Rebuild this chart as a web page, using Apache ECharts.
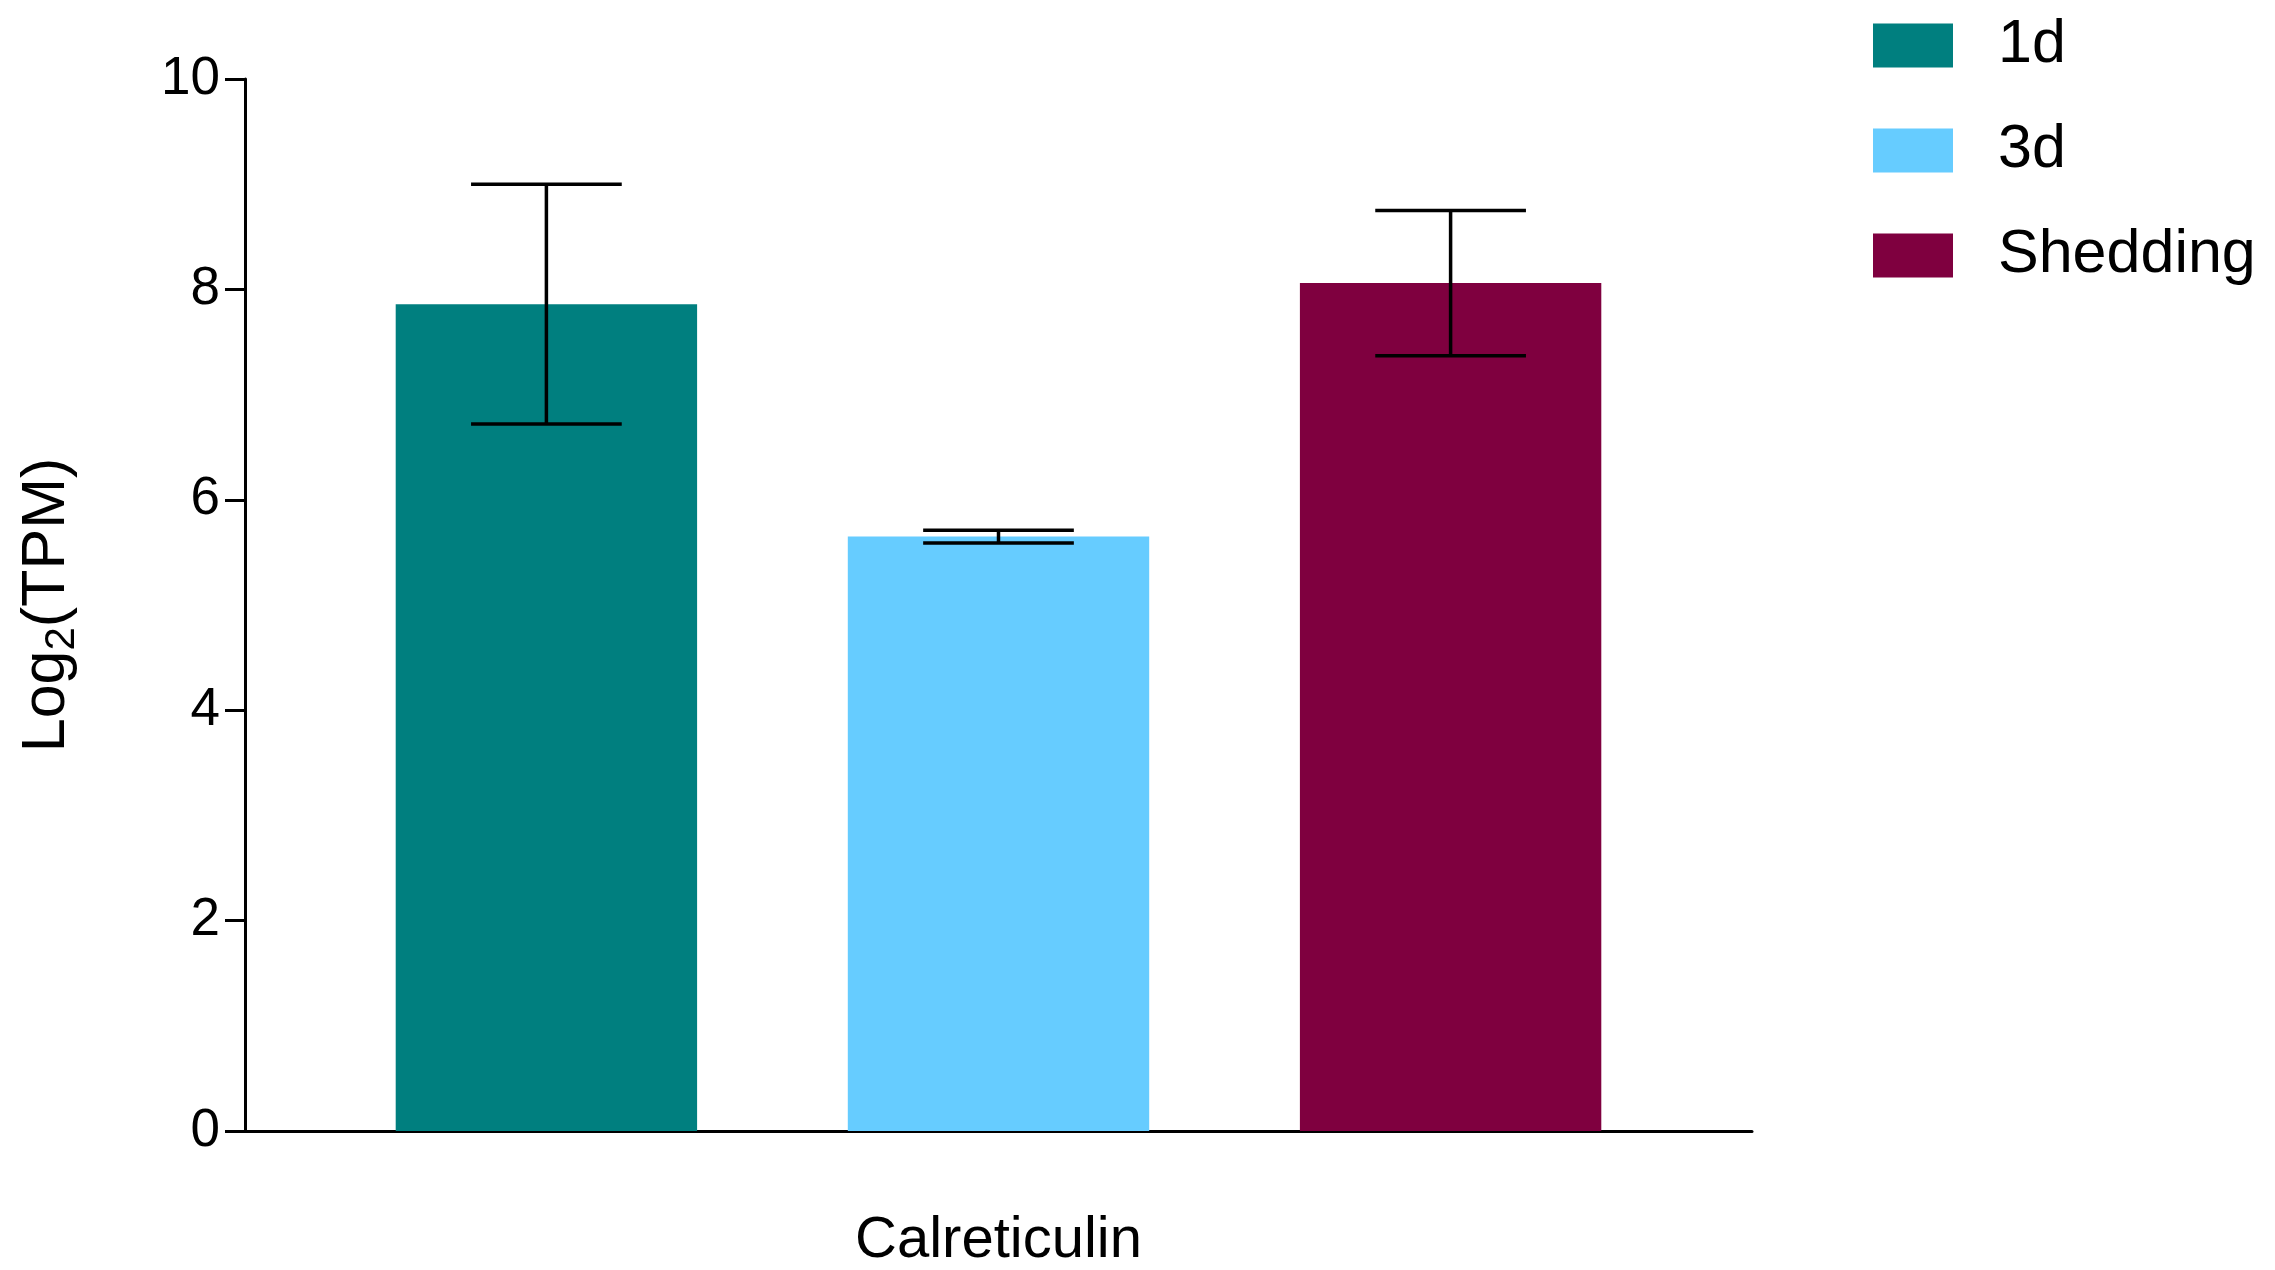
<!DOCTYPE html>
<html>
<head>
<meta charset="utf-8">
<title>Calreticulin expression</title>
<script src="https://cdn.jsdelivr.net/npm/echarts@6/dist/echarts.min.js"></script>
<style>
  html, body { margin: 0; padding: 0; background: #fff; }
  #chart { width: 2275px; height: 1270px; }
</style>
</head>
<body>
<div id="chart"></div>
<script>
// Gene on the x axis
var categories = ['Calreticulin'];
// Groups (one bar per group)
var groups = ['1d', '3d', 'Shedding'];
var groupColors = ['#007f7f', '#66ccff', '#7f003f'];
// Mean log2(TPM) per group
var means = [7.86, 5.65, 8.06];
// Error half-width per group
var errors = [1.14, 0.06, 0.69];
// Y axis ticks
var yTicks = [0, 2, 4, 6, 8, 10];

var FONT = '"Liberation Sans", Arial, Helvetica, sans-serif';
var BAR_FRAC = 0.2;   // bar width as a share of the category band
var BAR_GAP = 0.5;    // gap between bars, as a share of bar width

var barSeries = groups.map(function (g, i) {
  return {
    name: g,
    type: 'bar',
    data: [means[i]],
    barWidth: (BAR_FRAC * 100) + '%',
    barGap: (BAR_GAP * 100) + '%',
    itemStyle: { color: groupColors[i] },
    z: 2
  };
});

var errData = groups.map(function (g, i) {
  return [0, means[i] - errors[i], means[i] + errors[i], i];
});

var errorSeries = {
  type: 'custom',
  name: 'error',
  data: errData,
  z: 5,
  silent: true,
  encode: { x: 0, y: [1, 2] },
  renderItem: function (params, api) {
    var lowPt = api.coord([api.value(0), api.value(1)]);
    var highPt = api.coord([api.value(0), api.value(2)]);
    var band = api.size([1, 0])[0];
    var barW = band * BAR_FRAC;
    var step = barW * (1 + BAR_GAP);
    var n = groups.length;
    var x = lowPt[0] + (api.value(3) - (n - 1) / 2) * step;
    var half = barW / 4;
    var style = { stroke: '#000', lineWidth: 3.5 };
    return {
      type: 'group',
      children: [
        { type: 'line', shape: { x1: x, y1: highPt[1], x2: x, y2: lowPt[1] }, style: style },
        { type: 'line', shape: { x1: x - half, y1: highPt[1], x2: x + half, y2: highPt[1] }, style: style },
        { type: 'line', shape: { x1: x - half, y1: lowPt[1], x2: x + half, y2: lowPt[1] }, style: style }
      ]
    };
  }
};

var chart = echarts.init(document.getElementById('chart'), null, { renderer: 'canvas' });
chart.setOption({
  backgroundColor: '#fff',
  animation: false,
  textStyle: { fontFamily: FONT, color: '#000' },
  grid: { left: 245, right: 523, top: 79, bottom: 137, containLabel: false },
  legend: {
    data: groups,
    orient: 'vertical',
    left: 1873,
    top: 15,
    padding: 0,
    icon: 'rect',
    itemWidth: 80,
    itemHeight: 44,
    itemGap: 44,
    selectedMode: false,
    textStyle: {
      fontFamily: FONT,
      fontSize: 61,
      color: '#000',
      padding: [0, 0, 0, 40]
    }
  },
  xAxis: {
    type: 'category',
    data: categories,
    axisLine: { show: true, lineStyle: { color: '#000', width: 3 } },
    axisTick: { show: false },
    axisLabel: { fontFamily: FONT, fontSize: 58, color: '#000', margin: 81 }
  },
  yAxis: {
    type: 'value',
    min: yTicks[0],
    max: yTicks[yTicks.length - 1],
    interval: yTicks[1] - yTicks[0],
    name: 'Log{sub|2}(TPM)',
    nameLocation: 'middle',
    nameRotate: 90,
    nameGap: 162,
    nameTextStyle: {
      fontFamily: FONT,
      fontSize: 61,
      color: '#000',
      rich: {
        sub: { fontFamily: FONT, fontSize: 42, color: '#000', verticalAlign: 'bottom', padding: [30, 0, 0, 0] }
      }
    },
    axisLine: { show: true, lineStyle: { color: '#000', width: 3 } },
    axisTick: { show: true, inside: false, length: 20, lineStyle: { color: '#000', width: 3 } },
    axisLabel: { fontFamily: FONT, fontSize: 53, color: '#000', margin: 25 },
    splitLine: { show: false }
  },
  series: barSeries.concat([errorSeries])
});
</script>
</body>
</html>
